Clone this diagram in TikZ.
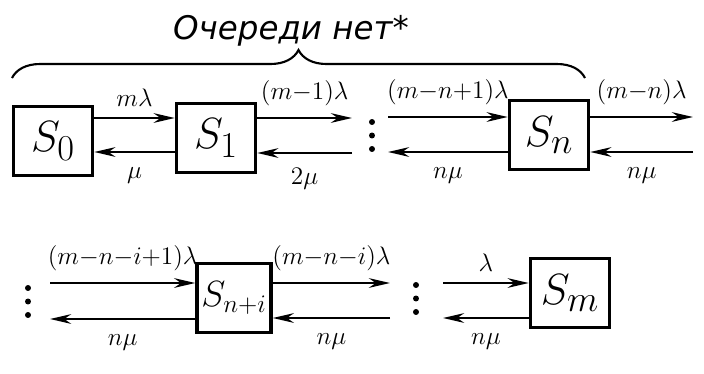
\documentclass[tikz,border=0pt]{standalone}
\usepackage{fontspec}
\newfontfamily\cyrfont{DejaVu Sans}
\usetikzlibrary{arrows.meta, decorations.pathreplacing}

\begin{document}
\begin{tikzpicture}[x=0.02cm, y=-0.02cm, >={Stealth[length=12pt, width=5.5pt]},
        state/.style={rectangle, draw, line width=2pt, minimum width=1.58cm, minimum height=1.38cm, inner sep=0pt, font=\Huge},
        flow/.style={->, line width=1.4pt},
        lbl/.style={font=\fontsize{13.5}{16}\selectfont, inner sep=1pt}]
    \useasboundingbox (0,0) rectangle (704,373);

    \node (s0) [state] at (53,141) {$S_0$};
    \node (s1) [state] at (216,138) {$S_1$};
    \node (sn) [state] at (549,135) {$S_n$};
    \node (sni) [state, minimum width=1.48cm, font=\huge] at (234,298) {$S_{n+i}$};
    \node (sm) [state] at (570,293) {$S_m$};

    \coordinate (t1) at (0,118);
    \coordinate (t2) at (0,152);
    \coordinate (a1) at (352,118);
    \coordinate (a2) at (352,153);
    \coordinate (b1) at (388,117);
    \coordinate (b2) at (388,152);
    \coordinate (c1) at (693,117);
    \coordinate (c2) at (693,152);
    \coordinate (d1) at (50,283);
    \coordinate (d2) at (50,319);
    \coordinate (e1) at (390,283);
    \coordinate (e2) at (390,318);
    \coordinate (f1) at (443,283);
    \coordinate (f2) at (443,318);

    \node (title) [font=\cyrfont\itshape\fontsize{18.5}{22}\selectfont] at (291,31) {Очереди нет*};
    \coordinate (br1) at (12,78);
    \coordinate (br2) at (585,78);
    \draw[line width=1.2pt, decorate, decoration={brace, amplitude=0.56cm}] (br1) -- (br2);

    \draw[flow] (s0.east |- t1) -- node[lbl, above=5pt] {$m\lambda$} (s1.west |- t1);
    \draw[flow] (s1.west |- t2) -- node[lbl, below=7pt] {$\mu$} (s0.east |- t2);
    \draw[flow] (s1.east |- a1) -- node[lbl, above=5pt] {$(m{-}1)\lambda$} (a1);
    \draw[flow] (a2) -- node[lbl, below=7pt] {$2\mu$} (s1.east |- a2);
    \draw[flow] (b1) -- node[lbl, above=5pt] {$(m{-}n{+}1)\lambda$} (sn.west |- b1);
    \draw[flow] (sn.west |- b2) -- node[lbl, below=7pt] {$n\mu$} (b2);
    \draw[flow] (sn.east |- c1) -- node[lbl, above=5pt] {$(m{-}n)\lambda$} (c1);
    \draw[flow] (c2) -- node[lbl, below=7pt] {$n\mu$} (sn.east |- c2);

    \draw[flow] (d1) -- node[lbl, above=5pt] {$(m{-}n{-}i{+}1)\lambda$} (sni.west |- d1);
    \draw[flow] (sni.west |- d2) -- node[lbl, below=7pt] {$n\mu$} (d2);
    \draw[flow] (sni.east |- e1) -- node[lbl, above=5pt] {$(m{-}n{-}i)\lambda$} (e1);
    \draw[flow] (e2) -- node[lbl, below=7pt] {$n\mu$} (sni.east |- e2);
    \draw[flow] (f1) -- node[lbl, above=5pt] {$\lambda$} (sm.west |- f1);
    \draw[flow] (sm.west |- f2) -- node[lbl, below=7pt] {$n\mu$} (f2);

    \foreach \x/\y in {372/122, 28/288, 416/285}
        \foreach \k in {0,1,2}
            \fill (\x,\y+13.5*\k) circle (1.7pt);
\end{tikzpicture}
\end{document}
